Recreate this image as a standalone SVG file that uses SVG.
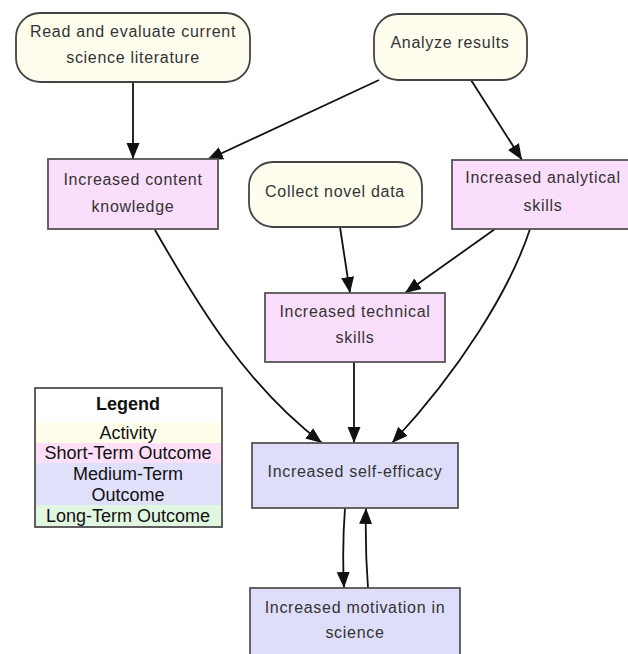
<svg xmlns="http://www.w3.org/2000/svg" width="628" height="654" viewBox="0 0 628 654">
<style>
.act{fill:#fefdee;stroke:#444;stroke-width:1.8}
.st{fill:#fbdefb;stroke:#555;stroke-width:1.8}
.mt{fill:#dedefa;stroke:#555;stroke-width:1.8}
.t{font-family:"Liberation Sans",Arial,sans-serif;font-size:16px;fill:#333;text-anchor:middle;letter-spacing:0.7px}
.e{fill:none;stroke:#111;stroke-width:1.8}
.lg{font-family:"Liberation Sans",Arial,sans-serif;font-size:18px;fill:#111;text-anchor:middle}
</style>
<defs>
<marker id="ah" markerUnits="userSpaceOnUse" markerWidth="17" markerHeight="14" refX="16" refY="7" orient="auto" viewBox="0 0 17 14">
<path d="M0,0.5 L16,7 L0,13.5 z" fill="#111"/>
</marker>
</defs>
<rect width="628" height="654" fill="#fff"/>
<g id="connectors">
<line class="e" x1="133" y1="82" x2="133" y2="159" marker-end="url(#ah)"/>
<line class="e" x1="379" y1="80" x2="207" y2="160" marker-end="url(#ah)"/>
<line class="e" x1="471" y1="80" x2="522" y2="160" marker-end="url(#ah)"/>
<line class="e" x1="340" y1="227" x2="350" y2="293" marker-end="url(#ah)"/>
<line class="e" x1="495" y1="229" x2="405" y2="293" marker-end="url(#ah)"/>
<path class="e" d="M155,230 C195,300 245,385 322,443" marker-end="url(#ah)"/>
<line class="e" x1="354" y1="362" x2="354" y2="443" marker-end="url(#ah)"/>
<path class="e" d="M530,229 C510,290 460,370 392,443" marker-end="url(#ah)"/>
<path class="e" d="M345,508 Q342,548 344,588" marker-end="url(#ah)"/>
<path class="e" d="M368,588 Q365,548 366,508" marker-end="url(#ah)"/>
</g>
<g id="read">
<rect class="act" x="16" y="13" width="234" height="69" rx="24"/>
<text class="t" x="133" y="37">Read and evaluate current</text>
<text class="t" x="133" y="63">science literature</text>
</g>
<g id="analyze">
<rect class="act" x="374" y="14" width="153" height="66" rx="24"/>
<text class="t" x="450" y="48">Analyze results</text>
</g>
<g id="collect">
<rect class="act" x="249" y="162" width="173" height="65" rx="24"/>
<text class="t" x="335" y="197">Collect novel data</text>
</g>
<g id="content">
<rect class="st" x="48" y="159" width="170" height="70"/>
<text class="t" x="133" y="185">Increased content</text>
<text class="t" x="133" y="212">knowledge</text>
</g>
<g id="analytical">
<rect class="st" x="452" y="160" width="182" height="69"/>
<text class="t" x="543" y="183">Increased analytical</text>
<text class="t" x="543" y="211">skills</text>
</g>
<g id="technical">
<rect class="st" x="265" y="293" width="180" height="69"/>
<text class="t" x="355" y="317">Increased technical</text>
<text class="t" x="355" y="343">skills</text>
</g>
<g id="selfefficacy">
<rect class="mt" x="252" y="443" width="206" height="65"/>
<text class="t" x="355" y="477">Increased self-efficacy</text>
</g>
<g id="motivation">
<rect class="mt" x="250" y="588" width="210" height="72"/>
<text class="t" x="355" y="613">Increased motivation in</text>
<text class="t" x="355" y="638">science</text>
</g>
<g id="legend">
<rect x="35" y="388" width="187" height="139" fill="#fff" stroke="#555" stroke-width="1.5"/>
<rect x="36" y="423" width="185" height="20" fill="#fdfdea"/>
<rect x="36" y="443" width="185" height="20" fill="#fde0f8"/>
<rect x="36" y="463" width="185" height="42" fill="#e0e0fa"/>
<rect x="36" y="505" width="185" height="21" fill="#e2f7e2"/>
<rect x="35" y="388" width="187" height="139" fill="none" stroke="#555" stroke-width="1.5"/>
<text class="lg" x="128" y="410" font-weight="bold" font-size="20">Legend</text>
<text class="lg" x="128" y="439">Activity</text>
<text class="lg" x="128" y="459">Short-Term Outcome</text>
<text class="lg" x="128" y="480">Medium-Term</text>
<text class="lg" x="128" y="501">Outcome</text>
<text class="lg" x="128" y="522">Long-Term Outcome</text>
</g>
</svg>
